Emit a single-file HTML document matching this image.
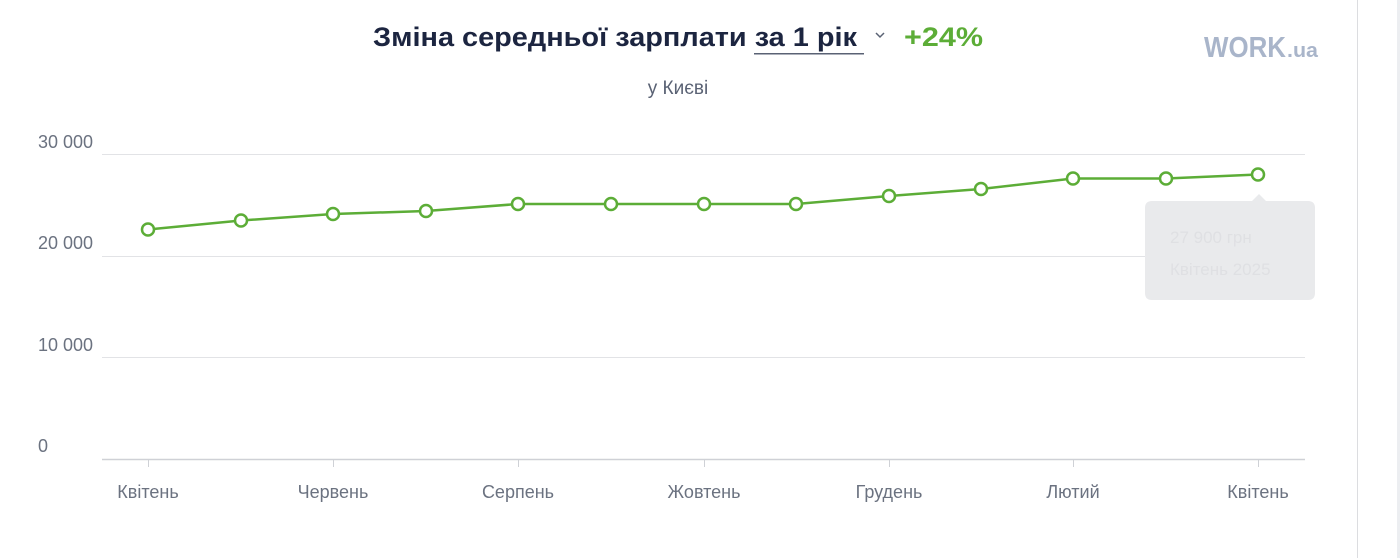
<!DOCTYPE html><html><head><meta charset="utf-8"><style>
body{margin:0;width:1400px;height:558px;background:#fff;overflow:hidden;font-family:"Liberation Sans","DejaVu Sans",sans-serif}
</style></head><body>
<svg width="1400" height="558" style="position:absolute;left:0;top:0" font-family="Liberation Sans, DejaVu Sans, sans-serif">
<rect x="1357" y="0" width="1" height="558" fill="#dcdde0"/>
<rect x="1397" y="0" width="3" height="558" fill="#eceef1"/>
<text x="373" y="46" font-size="27" font-weight="bold" fill="#1c2540" textLength="484" lengthAdjust="spacingAndGlyphs">Зміна середньої зарплати за 1 рік</text>
<rect x="754" y="53" width="110" height="1.5" fill="#5a6274"/>
<path d="M876 33 l4 4 l4 -4" stroke="#5a6274" stroke-width="1.5" fill="none"/>
<text x="904" y="46" font-size="27" font-weight="bold" fill="#5cad37" textLength="79" lengthAdjust="spacingAndGlyphs">+24%</text>
<text x="678" y="94" font-size="19" fill="#5a6274" text-anchor="middle">у Києві</text>
<text x="1204" y="57" font-size="29" font-weight="bold" fill="#a9b5ca" textLength="82" lengthAdjust="spacingAndGlyphs">WORK</text>
<text x="1287" y="57" font-size="20" font-weight="bold" fill="#a9b5ca" textLength="31" lengthAdjust="spacingAndGlyphs">.ua</text>
<g stroke="#e2e3e6" stroke-width="1">
<line x1="102" y1="154.5" x2="1305" y2="154.5"/><line x1="102" y1="256.5" x2="1305" y2="256.5"/><line x1="102" y1="357.5" x2="1305" y2="357.5"/>
</g>
<line x1="102" y1="459.5" x2="1305" y2="459.5" stroke="#cfd1d6" stroke-width="1.5"/>
<g stroke="#cfd1d6"><line x1="148.5" y1="459" x2="148.5" y2="467"/><line x1="333.5" y1="459" x2="333.5" y2="467"/><line x1="518.5" y1="459" x2="518.5" y2="467"/><line x1="704.5" y1="459" x2="704.5" y2="467"/><line x1="889.5" y1="459" x2="889.5" y2="467"/><line x1="1073.5" y1="459" x2="1073.5" y2="467"/><line x1="1258.5" y1="459" x2="1258.5" y2="467"/></g>
<g font-size="18" fill="#6b7280"><text x="38" y="148">30 000</text><text x="38" y="249">20 000</text><text x="38" y="351">10 000</text><text x="38" y="452">0</text></g>
<g font-size="18" fill="#6b7280" text-anchor="middle"><text x="148" y="498">Квітень</text><text x="333" y="498">Червень</text><text x="518" y="498">Серпень</text><text x="704" y="498">Жовтень</text><text x="889" y="498">Грудень</text><text x="1073" y="498">Лютий</text><text x="1258" y="498">Квітень</text></g>
<polyline fill="none" stroke="#5cad37" stroke-width="2.5" points="148,229.5 241,220.5 333,214 426,211 518,204 611,204 704,204 796,204 889,196 981,189 1073,178.5 1166,178.5 1258,174.5"/>
<g fill="#fff" stroke="#5cad37" stroke-width="2.5">
<circle cx="148" cy="229.5" r="6"/><circle cx="241" cy="220.5" r="6"/><circle cx="333" cy="214" r="6"/><circle cx="426" cy="211" r="6"/><circle cx="518" cy="204" r="6"/><circle cx="611" cy="204" r="6"/><circle cx="704" cy="204" r="6"/><circle cx="796" cy="204" r="6"/><circle cx="889" cy="196" r="6"/><circle cx="981" cy="189" r="6"/><circle cx="1073" cy="178.5" r="6"/><circle cx="1166" cy="178.5" r="6"/><circle cx="1258" cy="174.5" r="6"/>
</g>
<path d="M1151 201 H1252 L1259 194 L1266 201 H1308 Q1315 201 1315 208 V293 Q1315 300 1308 300 H1152 Q1145 300 1145 293 V208 Q1145 201 1152 201Z" fill="#e9eaec"/>
<text x="1170" y="243" font-size="17" fill="#dfe0e3">27 900 грн</text>
<text x="1170" y="275" font-size="17" fill="#dfe0e3">Квітень 2025</text>
</svg>
</body></html>
